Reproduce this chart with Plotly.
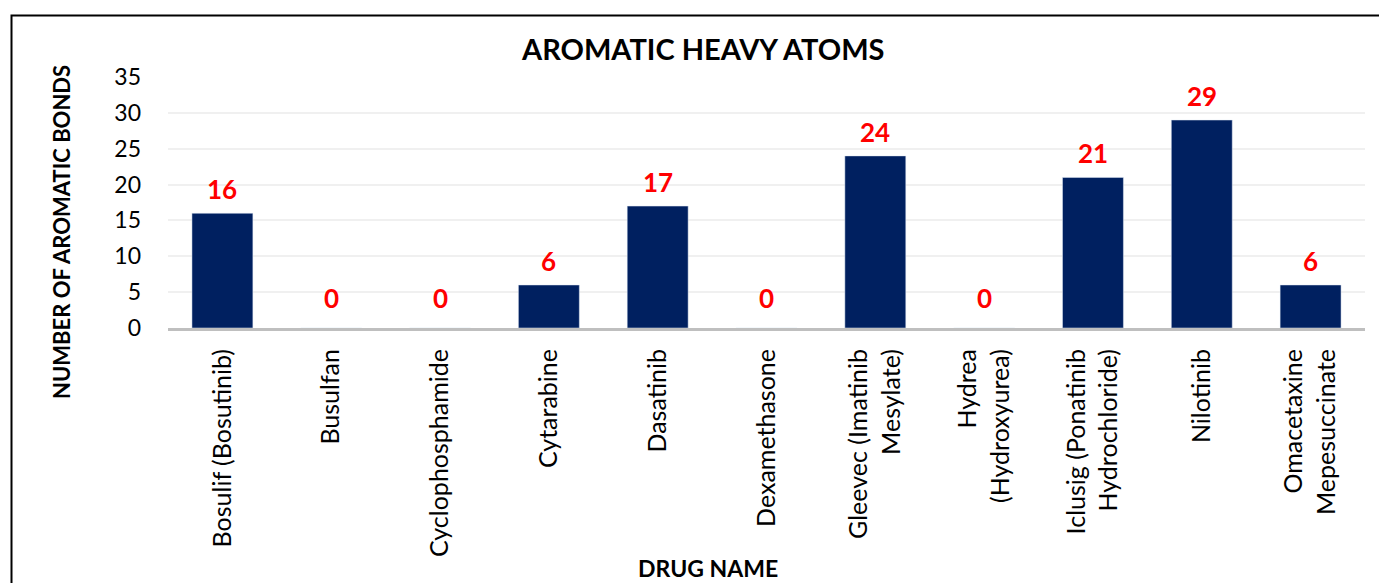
import plotly.graph_objects as go

drugs = ["Bosulif (Bosutinib)", "Busulfan", "Cyclophosphamide", "Cytarabine", "Dasatinib",
         "Dexamethasone", "Gleevec (Imatinib<br>Mesylate)", "Hydrea<br>(Hydroxyurea)",
         "Iclusig (Ponatinib<br>Hydrochloride)", "Nilotinib", "Omacetaxine<br>Mepesuccinate"]
values = [16, 0, 0, 6, 17, 0, 24, 0, 21, 29, 6]
yticks = [0, 5, 10, 15, 20, 25, 30, 35]

FONT = "Lato"
# page has an 8px body margin; figure is sized so the plot lands at x 168..1365, y 77..328
fig = go.Figure()
fig.add_trace(go.Bar(x=drugs, y=values, marker=dict(color="#002060"), width=0.56))

for d, v in zip(drugs, values):
    fig.add_annotation(x=d, y=v, text=f"<b>{v}</b>", showarrow=False, yanchor="bottom",
                       yshift=6 if v > 0 else 12,
                       font=dict(family=FONT, size=26, color="#FF0000"))

fig.add_annotation(text="<b>AROMATIC HEAVY ATOMS</b>", xref="paper", yref="paper",
                   x=(703 - 168) / 1197, y=(328 - 48) / 251, xanchor="center", yanchor="middle",
                   showarrow=False, font=dict(family=FONT, size=29, color="#000000"))
fig.add_annotation(text="<b>NUMBER OF AROMATIC BONDS</b>", xref="paper", yref="paper",
                   x=(61 - 168) / 1197, y=(328 - 232) / 251, xanchor="center", yanchor="middle",
                   showarrow=False, textangle=-90,
                   font=dict(family=FONT, size=22, color="#000000"))
fig.add_annotation(text="<b>DRUG NAME</b>", xref="paper", yref="paper",
                   x=(708 - 168) / 1197, y=(328 - 568) / 251, xanchor="center", yanchor="middle",
                   showarrow=False, font=dict(family=FONT, size=23, color="#000000"))

fig.add_shape(type="rect", xref="paper", yref="paper",
              x0=(11.5 - 168) / 1197, x1=1.2, y0=-2, y1=(328 - 15.5) / 251,
              line=dict(color="#000000", width=2), fillcolor="rgba(0,0,0,0)", layer="above")

fig.update_layout(
    width=1379, height=575,
    margin=dict(l=160, r=22, t=69, b=255),
    paper_bgcolor="white", plot_bgcolor="white",
    showlegend=False,
    font=dict(family=FONT, size=25, color="#000000"),
    xaxis=dict(tickangle=-90, showline=True, linecolor="#BFBFBF", linewidth=3,
               ticks="", showgrid=False, ticklabelstandoff=8,
               tickfont=dict(family=FONT, size=25, color="#000000")),
    yaxis=dict(range=[0, 35], tickvals=yticks, showgrid=True, gridcolor="#F0F0F0",
               gridwidth=1.5, zeroline=False, ticks="", ticklabelstandoff=26,
               tickfont=dict(family=FONT, size=23, color="#000000")),
)

fig.write_html("out.html")
